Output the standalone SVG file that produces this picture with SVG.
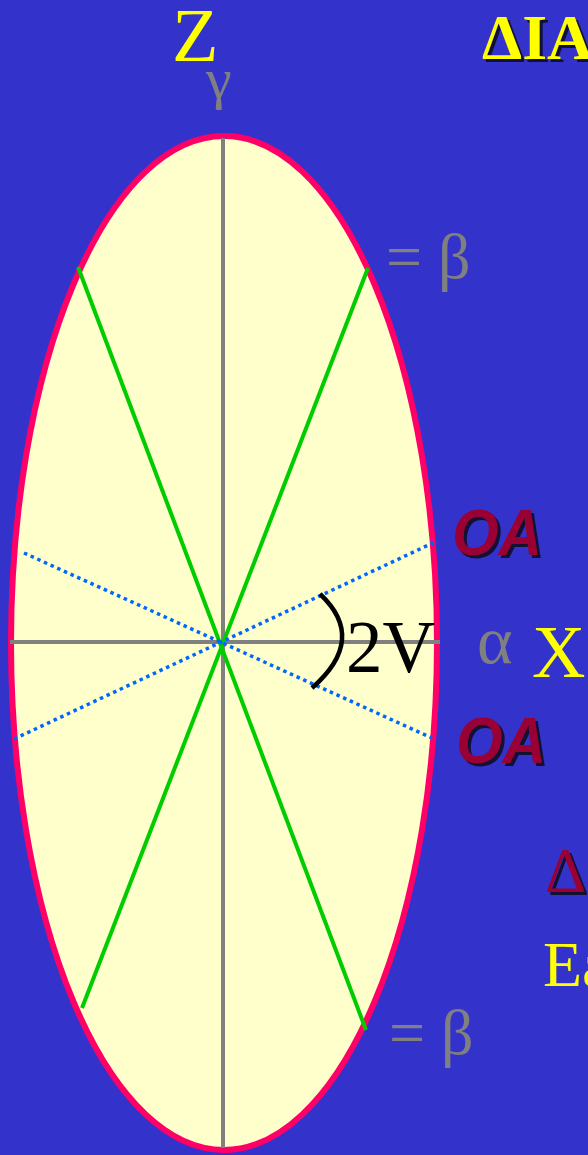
<svg xmlns="http://www.w3.org/2000/svg" width="588" height="1155" viewBox="0 0 588 1155">
<style>
.serif{font-family:"Liberation Serif","Times New Roman",serif}
.yel{fill:#FFFF00}
.gray{fill:#808080}
.oa{font-family:"Liberation Sans",Arial,sans-serif;font-weight:bold;font-style:italic;font-size:64px}
.axis{stroke:#808080;stroke-width:4;fill:none}
.green{stroke:#00CC00;stroke-width:4;fill:none}
.dot{stroke:#0066FF;stroke-width:3.5;stroke-dasharray:3.5 3.8;fill:none}
.shadow{fill:#111133}
</style>
<rect width="588" height="1155" fill="#3333CC"/>
<g id="ellipse">
<ellipse cx="224" cy="643" rx="213" ry="507" fill="#FFFFCC" stroke="#FF0066" stroke-width="6"/>
</g>
<g id="connectors">
<line class="axis" x1="223" y1="138" x2="223" y2="1148"/>
<line class="axis" x1="10" y1="642" x2="440" y2="642"/>
<line class="green" x1="78" y1="267" x2="366" y2="1030"/>
<line class="green" x1="368" y1="268" x2="82" y2="1008"/>
<line class="dot" x1="24" y1="553" x2="432" y2="738"/>
<line class="dot" x1="14" y1="739" x2="435" y2="542"/>
<path d="M320,594 Q368,639 312,688" stroke="#000" stroke-width="4.5" fill="none"/>
</g>
<g id="label-2V"><text class="serif" x="346" y="672" font-size="73" fill="#000">2V</text></g>
<g id="label-Z"><text class="serif yel" x="172" y="61" font-size="76">Z</text></g>
<g id="label-gamma"><text class="serif gray" x="206" y="98" font-size="58">γ</text></g>
<g id="title">
<text class="serif shadow" x="485" y="62" font-size="64" font-weight="bold">ΔIA</text>
<text class="serif yel" x="482" y="59" font-size="64" font-weight="bold">ΔIA</text>
</g>
<g id="beta-top"><text class="serif gray" x="386" y="278" font-size="64">= β</text></g>
<g id="beta-bottom"><text class="serif gray" x="389" y="1054" font-size="64">= β</text></g>
<g id="OA-top">
<text class="oa shadow" x="455" y="558" textLength="90" lengthAdjust="spacingAndGlyphs">OA</text>
<text class="oa" fill="#990033" x="452" y="555" textLength="90" lengthAdjust="spacingAndGlyphs">OA</text>
</g>
<g id="OA-bottom">
<text class="oa shadow" x="459" y="766" textLength="90" lengthAdjust="spacingAndGlyphs">OA</text>
<text class="oa" fill="#990033" x="456" y="763" textLength="90" lengthAdjust="spacingAndGlyphs">OA</text>
</g>
<g id="label-alpha"><text class="serif gray" x="477" y="663" font-size="68">α</text></g>
<g id="label-X"><text class="serif yel" x="532" y="677" font-size="74">X</text></g>
<g id="label-delta">
<text class="serif shadow" x="548" y="895" font-size="64">Δ</text>
<text class="serif" fill="#990033" x="545" y="892" font-size="64">Δ</text>
</g>
<g id="label-Ea"><text class="serif yel" x="543" y="986" font-size="64">Ea</text></g>
</svg>
